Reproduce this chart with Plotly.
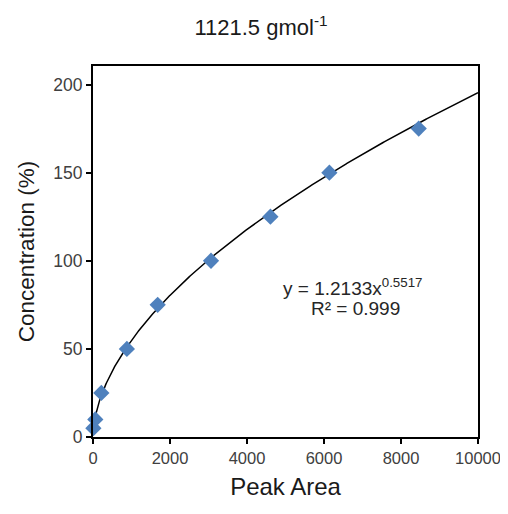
import numpy as np
import plotly.graph_objects as go

peak_area = [10, 60, 217, 880, 1680, 3065, 4608, 6140, 8460]
concentration = [5, 10, 25, 50, 75, 100, 125, 150, 175]

coef_a = 1.2133
coef_b = 0.5517
r_squared = 0.999

x_ticks = [0, 2000, 4000, 6000, 8000, 10000]
x_tick_labels = ["0", "2000", "4000", "6000", "8000", "10000"]
y_ticks = [0, 50, 100, 150, 200]
y_tick_labels = ["0", "50", "100", "150", "200"]

trend_x = np.linspace(1, 10000, 600)
trend_y = coef_a * trend_x ** coef_b

FONT = "Liberation Sans, Arial"

fig = go.Figure()
fig.add_trace(go.Scatter(x=trend_x, y=trend_y, mode="lines",
                         line=dict(color="black", width=1.5), hoverinfo="skip",
                         showlegend=False))
fig.add_trace(go.Scatter(x=peak_area, y=concentration, mode="markers",
                         marker=dict(symbol="diamond", size=12.5, color="#4F81BD",
                                     line=dict(width=0)),
                         cliponaxis=False, showlegend=False))

fig.add_annotation(x=0.675, y=0.405, xref="paper", yref="paper",
                   xanchor="center", yanchor="middle",
                   text=f"y = {coef_a}x<sup>{coef_b}</sup>", showarrow=False,
                   font=dict(family=FONT, size=19, color="#262626"))
fig.add_annotation(x=0.683, y=0.347, xref="paper", yref="paper",
                   xanchor="center", yanchor="middle",
                   text=f"R² = {r_squared}", showarrow=False,
                   font=dict(family=FONT, size=19, color="#262626"))

fig.update_layout(
    width=500, height=506,
    margin=dict(l=85, r=30, t=58, b=77),
    paper_bgcolor="white", plot_bgcolor="white",
    title=dict(text="1121.5 gmol<sup>-1</sup>", x=0.506, xanchor="center",
               xref="container", y=0.9615, yanchor="middle", yref="container",
               font=dict(family=FONT, size=22, color="#1a1a1a")),
    font=dict(family=FONT, color="#262626"),
)
fig.update_xaxes(range=[0, 10000], tickvals=x_ticks, ticktext=x_tick_labels,
                 ticks="outside", ticklen=5, automargin=False,
                 tickwidth=2, tickcolor="black", showline=True, linecolor="black",
                 linewidth=2, mirror=True, showgrid=False, zeroline=False,
                 tickfont=dict(size=16.5, color="#404040"),
                 title=dict(text="Peak Area", font=dict(size=24, color="#1a1a1a"),
                            standoff=12))
fig.update_yaxes(range=[0, 210.5], tickvals=y_ticks, ticktext=y_tick_labels,
                 ticks="outside", ticklen=5, automargin=False,
                 tickwidth=2, tickcolor="black", showline=True, linecolor="black",
                 linewidth=2, mirror=True, showgrid=False, zeroline=False,
                 tickfont=dict(size=17.5, color="#404040"),
                 title=dict(text="Concentration (%)", font=dict(size=22.5, color="#1a1a1a"),
                            standoff=12))

fig.write_html("out.html")
